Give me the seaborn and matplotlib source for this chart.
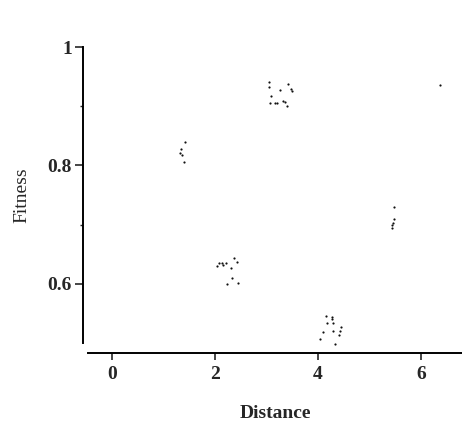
import matplotlib
matplotlib.use("Agg")
import matplotlib.pyplot as plt
import seaborn as sns
import pandas as pd

# points, one list per axis
distance = [
    1.42, 1.34, 1.32, 1.36, 1.40,
    3.04, 3.04, 3.26, 3.42, 3.48, 3.50, 3.09, 3.07, 3.17, 3.20, 3.32, 3.36, 3.40,
    2.04, 2.08, 2.13, 2.16, 2.21, 2.31, 2.36, 2.42, 2.33, 2.23, 2.44,
    4.15, 4.27, 4.28, 4.30, 4.17, 4.45, 4.43, 4.30, 4.09, 4.41, 4.04, 4.33,
    5.48, 5.48, 5.46, 5.44, 5.44,
    6.37,
]
fitness = [
    0.840, 0.828, 0.821, 0.818, 0.806,
    0.941, 0.933, 0.927, 0.938, 0.929, 0.925, 0.917, 0.906, 0.906, 0.906, 0.909, 0.907, 0.900,
    0.630, 0.635, 0.636, 0.632, 0.635, 0.626, 0.643, 0.637, 0.609, 0.600, 0.601,
    0.546, 0.544, 0.540, 0.534, 0.533, 0.527, 0.521, 0.520, 0.519, 0.514, 0.507, 0.498,
    0.730, 0.709, 0.703, 0.699, 0.695,
    0.936,
]
x_ticks = [0, 2, 4, 6]
y_ticks = [0.6, 0.8, 1.0]
y_tick_labels = ["0.6", "0.8", "1"]
y_minor = [0.7, 0.9]

df = pd.DataFrame({"Distance": distance, "Fitness": fitness})

sns.set_style("ticks")
plt.rcParams["font.family"] = ["Liberation Serif", "DejaVu Serif"]
plt.rcParams["font.weight"] = "bold"

fig = plt.figure(figsize=(4.62, 4.26), dpi=100)
ax = fig.add_axes([0.1905, 0.1948, 0.8095, 0.6948])

sns.scatterplot(data=df, x="Distance", y="Fitness", ax=ax, color="#111111",
                s=2.5, linewidth=0, clip_on=False)

ax.set_xlim(-0.47, 6.8)
ax.set_ylim(0.5, 1.0)
ax.set_xticks(x_ticks)
ax.set_xticklabels([str(t) for t in x_ticks])
ax.set_yticks(y_ticks)
ax.set_yticklabels(y_tick_labels)
ax.set_yticks(y_minor, minor=True)

sns.despine(ax=ax)
ax.spines["left"].set_position(("outward", 3.6))
ax.spines["bottom"].set_position(("outward", 7.2))
for side in ["left", "bottom"]:
    ax.spines[side].set_linewidth(1.4)
    ax.spines[side].set_color("black")

ax.tick_params(axis="y", which="major", length=6, width=1.2, labelsize=14, pad=2)
ax.tick_params(axis="y", which="minor", length=2, width=1.0)
ax.tick_params(axis="x", which="major", length=5, width=1.2, labelsize=14, pad=4)

ax.set_xlabel("Distance", fontsize=14, fontweight="bold", labelpad=16)
ax.set_ylabel("Fitness", fontsize=14, fontweight="normal", labelpad=12)

fig.savefig("out.png", dpi=100)
